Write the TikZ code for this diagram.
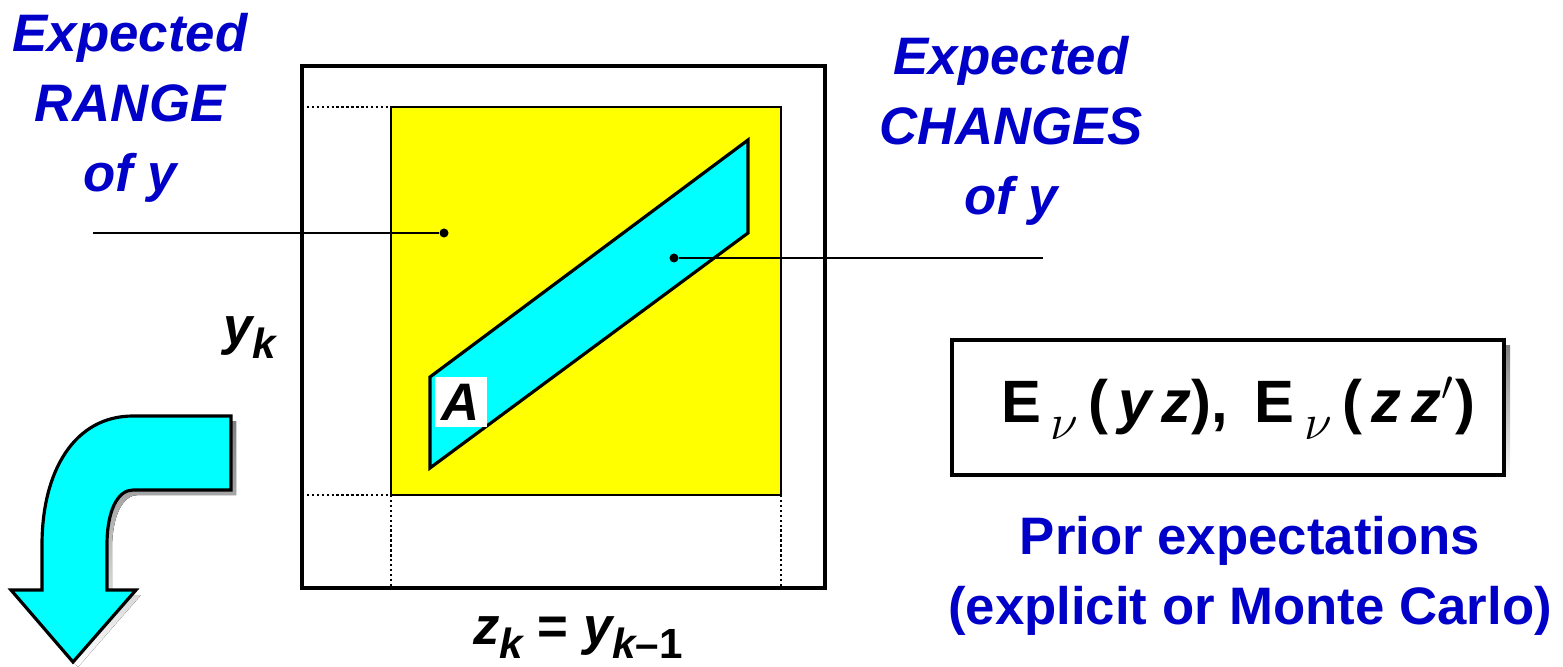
\documentclass[tikz,border=0pt]{standalone}
\usepackage{fontspec}
\setmainfont{Liberation Sans}
\usepackage{xcolor}
\usetikzlibrary{positioning}
\definecolor{txtblue}{RGB}{0,0,200}
\definecolor{shade}{RGB}{64,64,64}
\definecolor{bandcyan}{RGB}{0,255,255}
\definecolor{rangeyellow}{RGB}{255,255,0}
\newcommand{\lowsub}[1]{\raisebox{-0.5ex}{\fontsize{12}{14}\selectfont #1}}
\newcommand{\nusub}{\raisebox{-0.55ex}{\fontsize{15}{17}\selectfont$\nu$}}

\begin{document}
\begin{tikzpicture}[x=0.01cm, y=-0.01cm,
  lbl/.style={font=\fontsize{15}{19.9}\selectfont\bfseries\itshape, text=txtblue,
              align=center, inner sep=0pt},
  prior/.style={font=\fontsize{15}{19.9}\selectfont\bfseries, text=txtblue,
                align=center, inner sep=0pt},
  var/.style={font=\fontsize{15}{18}\selectfont\bfseries\itshape, inner sep=0pt},
  dot/.style={circle, fill=black, inner sep=0pt, minimum size=0.09cm},
  lead/.style={line width=0.7pt},
  guide/.style={line width=0.7pt, dash pattern=on 0.7pt off 0.7pt},
  frame/.style={draw, line width=0.9pt}
]
  \useasboundingbox (0,0) rectangle (1563,667);

  % outer box and the range square
  \draw[frame] (302,66) rectangle (825,588);
  \draw[guide] (302,107) -- (391,107);
  \draw[guide] (302,495) -- (391,495);
  \draw[guide] (391,495) -- (391,588);
  \draw[guide] (781,495) -- (781,588);
  \draw[frame, fill=rangeyellow, line width=0.7pt] (391,107) rectangle (781,495);

  % band of expected changes
  \draw[frame, fill=bandcyan] (430,377) -- (748,140) -- (748,233) -- (430,468) -- cycle;
  \node[var, fill=white, inner sep=2pt] (A) at (461,402) {A};

  % leads
  \node[dot] (rdot) at (444,233) {};
  \node[dot] (cdot) at (674,258) {};
  \coordinate (rend) at (93,233);
  \coordinate (cend) at (1043,258);
  \draw[lead] (rend) -- (rdot);
  \draw[lead] (cdot) -- (cend);

  \node[lbl] (range) at (130,108) {Expected\\RANGE\\of y};
  \node[lbl] (changes) at (1011,131) {Expected\\CHANGES\\of y};

  % axes
  \node[var] (yk) at (250,338) {y\lowsub{k}};
  \node[var] (zk) at (578,638) {z\lowsub{k}\ {\upshape=}\ y\lowsub{k{\upshape\textendash1}}};

  % curved arrow
  \fill[shade, shift={(5,5)}] (231,416) -- (133,416)
    .. controls (75,416) and (42,470) .. (42,545) -- (42,590) -- (11,590)
    -- (73,662) -- (136,590) -- (107,590) -- (107,545)
    .. controls (107,510) and (118,490) .. (133,490) -- (231,490) -- cycle;
  \draw[frame, fill=bandcyan, line join=miter] (231,416) -- (133,416)
    .. controls (75,416) and (42,470) .. (42,545) -- (42,590) -- (11,590)
    -- (73,662) -- (136,590) -- (107,590) -- (107,545)
    .. controls (107,510) and (118,490) .. (133,490) -- (231,490) -- cycle;

  % prior expectations
  \fill[shade] (958,346) rectangle (1510,481);
  \draw[frame, fill=white] (952,340) rectangle (1504,475);
  \node[font=\fontsize{17}{20}\selectfont\bfseries] (expect) at (1238,408)
    {E\,\nusub\,(\,\textit{y\,z}),\ \,E\,\nusub\,(\,\textit{z\,z}$'$)};
  \node[prior] (priortxt) at (1250,576) {Prior expectations\\(explicit or Monte Carlo)};
\end{tikzpicture}
\end{document}
